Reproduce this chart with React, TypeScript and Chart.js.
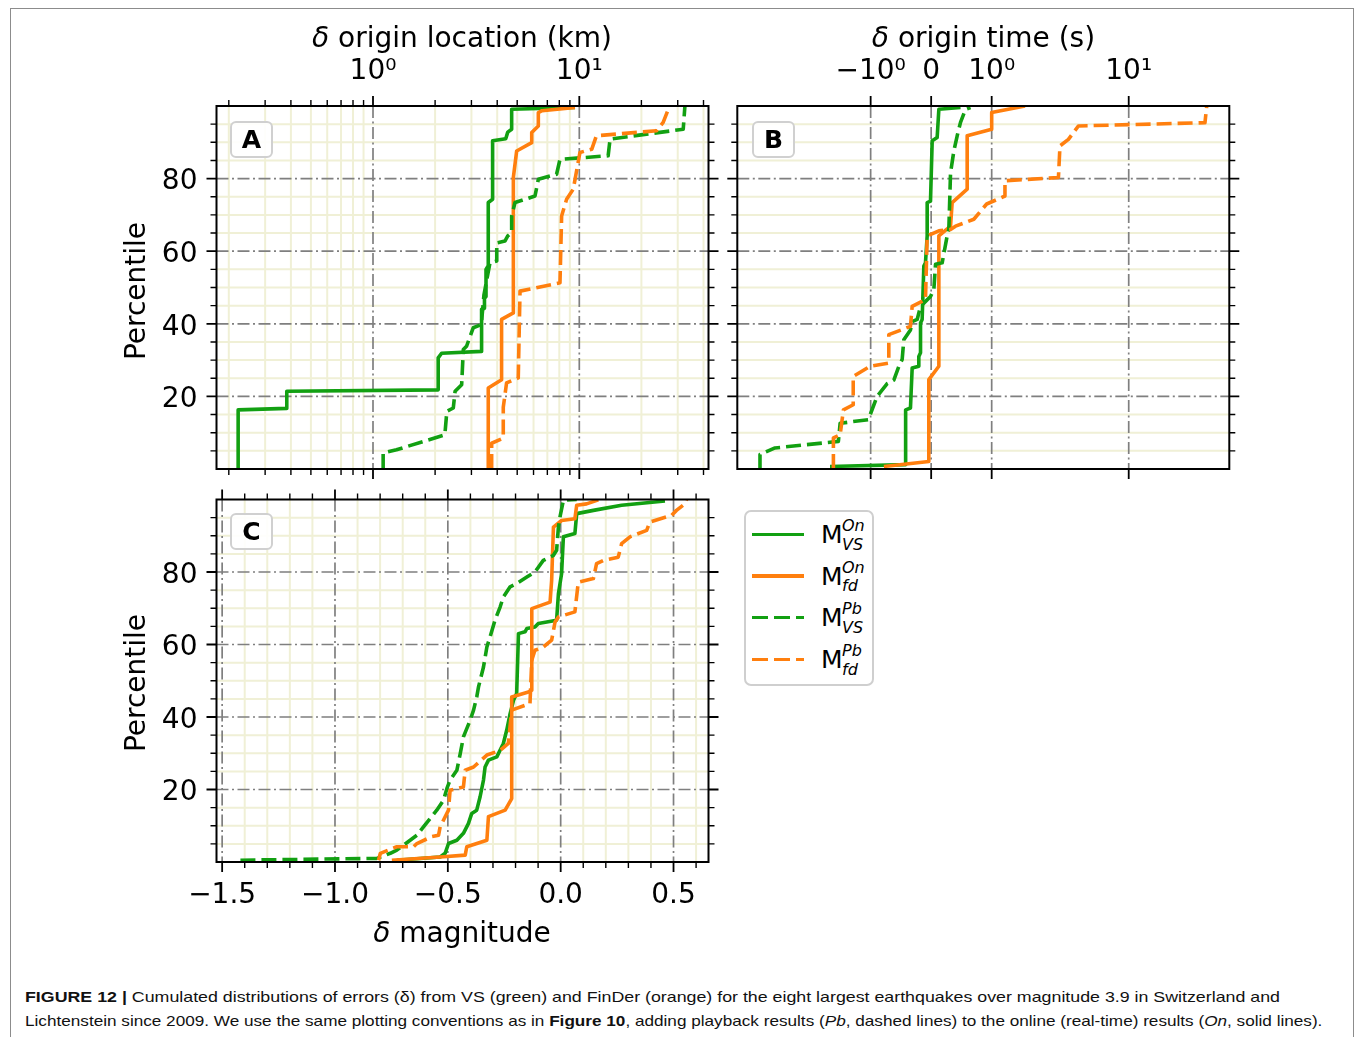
import React, { useEffect, useRef } from 'react';
import { Chart, registerables, LinearScale } from 'chart.js';

Chart.register(...registerables);

// ---------------- data ----------------
// Panel A: delta origin location (km) vs percentile
const locVsOn: [number, number][] = [
  [0.222, 0], [0.222, 16.3], [0.382, 16.7], [0.382, 21.4], [2.07, 21.8], [2.07, 30.6], [2.15, 31.9],
  [3.36, 32.4], [3.36, 44.0], [3.47, 44.3], [3.47, 47.0], [3.53, 47.5], [3.53, 55.0], [3.62, 56.0],
  [3.62, 73.4], [3.8, 74.3], [3.8, 90.4], [4.4, 91.0], [4.5, 92.8], [4.7, 93.6], [4.7, 99.1], [9.53, 99.6],
];
const locFdOn: [number, number][] = [
  [3.62, 0], [3.62, 22.3], [4.2, 24.6], [4.2, 41.2], [4.79, 43.0], [4.79, 80.3], [4.97, 87.6],
  [5.88, 89.9], [5.88, 92.7], [6.33, 94.5], [6.33, 98.2], [6.6, 98.7], [9.53, 99.6],
];
const locVsPb: [number, number][] = [
  [1.12, 0], [1.12, 4.4], [1.3, 5.3], [2.23, 9.4], [2.28, 15.9], [2.45, 16.8], [2.5, 21.4], [2.69, 23.2],
  [2.74, 32.9], [2.84, 33.8], [3.06, 38.9], [3.35, 39.8], [3.45, 48.0], [3.69, 56.8], [3.98, 57.3],
  [3.98, 62.3], [4.36, 62.8], [4.5, 64.2], [4.7, 65.1], [4.7, 69.7], [4.88, 73.4], [6.1, 75.2],
  [6.33, 79.8], [7.76, 81.2], [8.06, 85.3], [13.8, 86.3], [14.1, 90.9], [31.9, 93.6], [32.5, 100],
];
const locFdPb: [number, number][] = [
  [3.76, 0], [3.76, 7.1], [4.28, 8.5], [4.28, 17.0], [4.44, 23.7], [5.06, 25.1], [5.16, 49.0],
  [8.06, 51.3], [8.21, 69.7], [8.68, 74.3], [9.35, 77.1], [10.07, 87.2], [11.5, 88.1], [12.1, 91.8],
  [23.7, 93.2], [25.5, 95.5], [27.0, 99.1], [27.5, 99.6],
];

// Panel B: delta origin time (s) vs percentile
const timeVsOn: [number, number][] = [
  [-1.98, 0.7], [-0.424, 1.2], [-0.424, 2.05], [-0.42, 16.3], [-0.342, 16.8], [-0.314, 27.8],
  [-0.204, 28.3], [-0.204, 31.0], [-0.176, 32.0], [-0.176, 40.2], [-0.149, 41.2], [-0.121, 55.9],
  [-0.094, 56.8], [-0.066, 64.2], [-0.066, 73.4], [-0.011, 73.8], [0.017, 90.4], [0.099, 91.3],
  [0.127, 99.1], [0.485, 99.6],
];
const timeFdOn: [number, number][] = [
  [-0.782, 0.7], [-0.039, 2.05], [-0.039, 24.6], [0.127, 28.3], [0.127, 64.2], [0.32, 66.9],
  [0.347, 73.4], [0.595, 77.1], [0.595, 91.8], [1.0, 93.6], [1.0, 98.2], [1.75, 100],
];
const timeVsPb: [number, number][] = [
  [-6.42, 0], [-6.42, 4.0], [-4.99, 5.8], [-1.72, 7.6], [-1.67, 12.6], [-1.04, 13.6], [-0.893, 20.0],
  [-0.727, 23.5], [-0.617, 24.5], [-0.534, 28.3], [-0.479, 30.2], [-0.452, 35.6], [-0.342, 38.3],
  [-0.314, 40.6], [-0.231, 41.2], [-0.176, 44.8], [-0.121, 45.7], [-0.011, 47.5], [0.044, 49.4],
  [0.072, 56.4], [0.182, 56.8], [0.264, 64.2], [0.292, 66.0], [0.32, 81.6], [0.375, 87.6],
  [0.43, 91.8], [0.485, 95.5], [0.567, 99.1], [0.65, 99.6],
];
const timeFdPb: [number, number][] = [
  [-1.87, 0], [-1.87, 8.6], [-1.67, 9.4], [-1.58, 16.3], [-1.34, 17.7], [-1.34, 25.5], [-1.01, 28.3],
  [-0.7, 29.2], [-0.7, 37.0], [-0.342, 39.3], [-0.314, 44.8], [-0.094, 46.7], [-0.066, 64.2],
  [0.127, 65.6], [0.32, 66.0], [0.402, 66.9], [0.705, 68.8], [0.917, 73.0], [1.25, 75.2], [1.25, 79.4],
  [3.07, 80.3], [3.15, 89.0], [3.63, 90.8], [4.29, 94.5], [36.0, 95.4], [37.1, 100],
];

// Panel C: delta magnitude vs percentile
const magVsOn: [number, number][] = [
  [-0.726, 0.5], [-0.534, 1.4], [-0.512, 2.4], [-0.497, 5.1], [-0.46, 6.0], [-0.431, 7.9], [-0.409, 10.6],
  [-0.394, 13.4], [-0.372, 14.3], [-0.357, 18.0], [-0.342, 22.6], [-0.335, 26.2], [-0.32, 28.1],
  [-0.283, 29.0], [-0.254, 32.7], [-0.239, 36.4], [-0.224, 40.9], [-0.209, 44.6], [-0.195, 46.5],
  [-0.187, 63.0], [-0.158, 63.5], [-0.15, 64.4], [-0.114, 64.8], [-0.099, 65.8], [-0.018, 66.7],
  [-0.01, 74.0], [0.004, 79.5], [0.012, 89.7], [0.063, 90.6], [0.071, 96.1], [0.145, 97.0],
  [0.27, 98.4], [0.462, 99.6],
];
const magFdOn: [number, number][] = [
  [-0.748, 0.5], [-0.534, 1.4], [-0.423, 1.9], [-0.416, 4.2], [-0.327, 6.0], [-0.32, 12.5], [-0.246, 14.3],
  [-0.217, 17.5], [-0.217, 45.5], [-0.143, 46.9], [-0.128, 47.4], [-0.128, 69.9], [-0.047, 71.7],
  [-0.04, 77.7], [-0.032, 92.4], [0.004, 94.2], [0.063, 94.7], [0.071, 98.4], [0.115, 98.8], [0.167, 99.9],
];
const magVsPb: [number, number][] = [
  [-1.419, 0.5], [-0.814, 1.0], [-0.755, 2.4], [-0.726, 3.3], [-0.667, 6.0], [-0.637, 7.4], [-0.608, 9.7],
  [-0.549, 14.3], [-0.519, 17.1], [-0.504, 20.3], [-0.49, 22.6], [-0.46, 25.3], [-0.445, 29.9],
  [-0.431, 34.5], [-0.401, 39.1], [-0.386, 41.9], [-0.372, 45.5], [-0.364, 48.3], [-0.342, 53.8],
  [-0.327, 59.3], [-0.313, 62.1], [-0.291, 66.7], [-0.268, 70.4], [-0.254, 73.1], [-0.224, 75.9],
  [-0.195, 76.8], [-0.15, 78.6], [-0.114, 80.0], [-0.077, 83.2], [-0.032, 84.6], [-0.018, 86.0],
  [-0.01, 92.4], [-0.003, 95.2], [0.012, 99.8], [0.071, 100],
];
const magFdPb: [number, number][] = [
  [-0.807, 0.5], [-0.799, 2.4], [-0.726, 4.2], [-0.652, 4.2], [-0.637, 5.1], [-0.571, 7.0], [-0.541, 7.4],
  [-0.534, 9.7], [-0.497, 14.3], [-0.49, 19.8], [-0.431, 20.7], [-0.423, 25.3], [-0.386, 26.2],
  [-0.327, 29.5], [-0.268, 30.8], [-0.232, 32.7], [-0.217, 41.9], [-0.136, 43.7], [-0.128, 55.7],
  [-0.114, 58.4], [-0.077, 59.3], [-0.04, 61.2], [-0.025, 66.2], [-0.01, 67.6], [0.063, 69.0],
  [0.078, 77.2], [0.145, 78.2], [0.159, 82.3], [0.189, 83.2], [0.255, 84.1], [0.27, 87.8],
  [0.307, 89.7], [0.381, 91.5], [0.395, 93.8], [0.491, 95.6], [0.513, 97.0], [0.55, 98.8], [0.558, 100],
];

// ticks
const pctMajor = [20, 40, 60, 80];
const pctMinor = [5, 10, 15, 25, 30, 35, 45, 50, 55, 65, 70, 75, 85, 90, 95];
const locMajor = [1, 10];
const locMajorLabels = ['10\u2070', '10\u00b9'];
const locMinor = [0.2, 0.3, 0.4, 0.5, 0.6, 0.7, 0.8, 0.9, 2, 3, 4, 5, 6, 7, 8, 9, 20, 30, 40];
const timeMajor = [-1, 0, 1, 10];
const timeMajorLabels = ['\u221210\u2070', '0', '10\u2070', '10\u00b9'];
const magMajor = [-1.5, -1.0, -0.5, 0.0, 0.5];
const magMajorLabels = ['\u22121.5', '\u22121.0', '\u22120.5', '0.0', '0.5'];
const magMinor = [-1.4, -1.3, -1.2, -1.1, -0.9, -0.8, -0.7, -0.6, -0.4, -0.3, -0.2, -0.1, 0.1, 0.2, 0.3, 0.4, 0.6];

const seriesNames = ['M VS On', 'M fd On', 'M VS Pb', 'M fd Pb'];

// ---------------- styles ----------------
const GREEN = '#12a012';
const ORANGE = '#ff7f0e';
const DASH = [15, 6];
const LW = 3.6;
const FONT = 'DejaVu Sans';

// symmetric log transform for panel B
const LIN_UNIT = 60.5 / 137;
function symT(v: number) {
  const a = Math.abs(v);
  const t = a <= 1 ? a * LIN_UNIT : LIN_UNIT + Math.log10(a);
  return v < 0 ? -t : t;
}
function symInv(t: number) {
  const a = Math.abs(t);
  const v = a <= LIN_UNIT ? a / LIN_UNIT : Math.pow(10, a - LIN_UNIT);
  return t < 0 ? -v : v;
}
class SymLogScale extends (LinearScale as any) {
  static id = 'symlog';
  static defaults = (LinearScale as any).defaults;
  getPixelForValue(value: number) {
    const t0 = symT(this.min), t1 = symT(this.max);
    return this.getPixelForDecimal((symT(value) - t0) / (t1 - t0));
  }
  getValueForPixel(pixel: number) {
    const t0 = symT(this.min), t1 = symT(this.max);
    return symInv(t0 + this.getDecimalForPixel(pixel) * (t1 - t0));
  }
}
Chart.register(SymLogScale as any);

// matplotlib-like grid / frame / ticks
const mplFrame = {
  id: 'mplFrame',
  beforeDatasetsDraw(chart: any, _a: any, o: any) {
    const { ctx, chartArea: a } = chart;
    const xs = chart.scales.x, ys = chart.scales.y;
    ctx.save();
    ctx.beginPath();
    ctx.rect(a.left, a.top, a.right - a.left, a.bottom - a.top);
    ctx.clip();
    ctx.lineWidth = 2;
    ctx.strokeStyle = '#f0f0d6';
    ctx.beginPath();
    if (o.xMinorGrid) for (const v of o.xMinor) { const p = xs.getPixelForValue(v); ctx.moveTo(p, a.top); ctx.lineTo(p, a.bottom); }
    for (const v of o.yMinor) { const p = ys.getPixelForValue(v); ctx.moveTo(a.left, p); ctx.lineTo(a.right, p); }
    ctx.stroke();
    ctx.setLineDash([12, 3.5, 2, 3.5]);
    ctx.strokeStyle = '#7f7f7f';
    ctx.lineWidth = 1.7;
    ctx.beginPath();
    for (const v of o.xMajor) { const p = xs.getPixelForValue(v); ctx.moveTo(p, a.top); ctx.lineTo(p, a.bottom); }
    for (const v of o.yMajor) { const p = ys.getPixelForValue(v); ctx.moveTo(a.left, p); ctx.lineTo(a.right, p); }
    ctx.stroke();
    ctx.restore();
  },
  afterDatasetsDraw(chart: any, _a: any, o: any) {
    const { ctx, chartArea: a } = chart;
    const xs = chart.scales.x, ys = chart.scales.y;
    ctx.save();
    ctx.strokeStyle = '#000';
    const tick = (vals: number[], len: number, lw: number) => {
      ctx.lineWidth = lw;
      ctx.beginPath();
      for (const v of vals) {
        const p = xs.getPixelForValue(v);
        ctx.moveTo(p, a.top); ctx.lineTo(p, a.top - len);
        ctx.moveTo(p, a.bottom); ctx.lineTo(p, a.bottom + len);
      }
      ctx.stroke();
    };
    const ytick = (vals: number[], len: number, lw: number) => {
      ctx.lineWidth = lw;
      ctx.beginPath();
      for (const v of vals) {
        const p = ys.getPixelForValue(v);
        ctx.moveTo(a.left, p); ctx.lineTo(a.left - len, p);
        ctx.moveTo(a.right, p); ctx.lineTo(a.right + len, p);
      }
      ctx.stroke();
    };
    tick(o.xMajor, 10, 1.8);
    tick(o.xMinor, 6, 1.4);
    ytick(o.yMajor, 10, 1.8);
    ytick(o.yMinor, 6, 1.4);
    ctx.lineWidth = 2;
    ctx.strokeRect(a.left, a.top, a.right - a.left, a.bottom - a.top);
    ctx.restore();
  },
};

function toXY(pairs: [number, number][]) {
  return pairs.map(([x, y]) => ({ x, y }));
}
function makeSets(vsOn: [number, number][], fdOn: [number, number][], vsPb: [number, number][], fdPb: [number, number][]) {
  // first dataset is drawn on top in Chart.js, so list them in reverse plotting order
  const mk = (label: string, d: [number, number][], color: string, dashed: boolean) => ({
    label,
    data: toXY(d),
    borderColor: color,
    backgroundColor: color,
    borderWidth: LW,
    borderDash: dashed ? DASH : [],
    borderJoinStyle: 'round',
    pointRadius: 0,
    tension: 0,
    fill: false,
  });
  return [
    mk(seriesNames[3], fdPb, ORANGE, true),
    mk(seriesNames[2], vsPb, GREEN, true),
    mk(seriesNames[1], fdOn, ORANGE, false),
    mk(seriesNames[0], vsOn, GREEN, false),
  ];
}

const tickFont = { family: FONT, size: 28 };

function yAxis(showLabels: boolean, width: number) {
  return {
    type: 'linear',
    min: 0,
    max: 100,
    display: showLabels,
    grid: { display: false, drawTicks: false },
    border: { display: false },
    ticks: { font: tickFont, color: '#000', padding: 19, labelOffset: 3.5, autoSkip: false, callback: (v: any) => String(v) },
    afterBuildTicks: (s: any) => { s.ticks = pctMajor.map((value) => ({ value })); },
    afterFit: (s: any) => { s.width = width; s.paddingTop = 0; s.paddingBottom = 0; s.paddingLeft = 0; s.paddingRight = 0; },
  };
}

function xAxis(type: string, position: string, min: number, max: number, majors: number[], labels: string[], height: number, padding: number) {
  return {
    type,
    position,
    min,
    max,
    grid: { display: false, drawTicks: false },
    border: { display: false },
    ticks: {
      font: tickFont,
      color: '#000',
      padding,
      autoSkip: false,
      maxRotation: 0,
      minRotation: 0,
      callback: (v: any) => {
        const i = majors.findIndex((m) => Math.abs(m - Number(v)) < 1e-9);
        return i >= 0 ? labels[i] : '';
      },
    },
    afterBuildTicks: (s: any) => { s.ticks = majors.map((value) => ({ value })); },
    afterFit: (s: any) => { s.height = height; s.paddingTop = 0; s.paddingBottom = 0; s.paddingLeft = 0; s.paddingRight = 0; },
  };
}

function baseOptions(padding: any, scales: any, frame: any) {
  return {
    animation: false,
    responsive: false,
    devicePixelRatio: 1,
    layout: { padding },
    plugins: { legend: { display: false }, tooltip: { enabled: false }, mplFrame: frame },
    elements: { point: { radius: 0 } },
    scales,
  };
}

const LOC_MIN = Math.pow(10, (216.5 - 373) / 206.3);
const LOC_MAX = Math.pow(10, (708.5 - 373) / 206.3);

function ChartCanvas({ left, top, width, height, make }: any) {
  const ref = useRef<HTMLCanvasElement | null>(null);
  useEffect(() => {
    const c = new Chart(ref.current as HTMLCanvasElement, make());
    return () => c.destroy();
  }, []);
  return (
    <canvas ref={ref} width={width} height={height}
      style={{ position: 'absolute', left, top, width, height }} />
  );
}

const makeA = () => ({
  type: 'line',
  data: { datasets: makeSets(locVsOn, locFdOn, locVsPb, locFdPb) },
  options: baseOptions(
    { left: 0, top: 0, right: 11.5, bottom: 11 },
    {
      x: xAxis('logarithmic', 'top', LOC_MIN, LOC_MAX, locMajor, locMajorLabels, 96, 17),
      y: yAxis(true, 116.5),
    },
    { xMajor: locMajor, xMinor: locMinor, xMinorGrid: true, yMajor: pctMajor, yMinor: pctMinor },
  ),
  plugins: [mplFrame],
});

const makeB = () => ({
  type: 'line',
  data: { datasets: makeSets(timeVsOn, timeFdOn, timeVsPb, timeFdPb) },
  options: baseOptions(
    { left: 12.3, top: 0, right: 15.7, bottom: 11 },
    {
      x: xAxis('symlog', 'top', -9.4, 54.2, timeMajor, timeMajorLabels, 96, 17),
      y: yAxis(false, 0),
    },
    { xMajor: timeMajor, xMinor: [], xMinorGrid: false, yMajor: pctMajor, yMinor: pctMinor },
  ),
  plugins: [mplFrame],
});

const makeC = () => ({
  type: 'line',
  data: { datasets: makeSets(magVsOn, magFdOn, magVsPb, magFdPb) },
  options: baseOptions(
    { left: 0, top: 19.5, right: 11.5, bottom: 0 },
    {
      x: xAxis('linear', 'bottom', -1.525, 0.655, magMajor, magMajorLabels, 98, 17),
      y: yAxis(true, 116.5),
    },
    { xMajor: magMajor, xMinor: magMinor, xMinorGrid: true, yMajor: pctMajor, yMinor: pctMinor },
  ),
  plugins: [mplFrame],
});

const titleStyle: any = {
  position: 'absolute', fontFamily: FONT, fontSize: 28, lineHeight: '28px',
  whiteSpace: 'nowrap', textAlign: 'center', color: '#000',
};

function PanelTag({ left, top, text }: any) {
  return (
    <div style={{
      position: 'absolute', left, top, width: 43, height: 37, boxSizing: 'border-box',
      border: '2px solid #d0d0d0', borderRadius: 6, background: 'rgba(255,255,255,0.9)',
      fontFamily: FONT, fontWeight: 'bold', fontSize: 25, lineHeight: '33px', textAlign: 'center', color: '#000',
    }}>{text}</div>
  );
}

function Percentile({ cy }: any) {
  return (
    <div style={{ ...titleStyle, left: 136.3 - 100, top: cy - 14, width: 200, height: 28, transform: 'rotate(-90deg)' }}>
      Percentile
    </div>
  );
}

const legendRows = [
  { color: GREEN, dashed: false, sup: 'On', sub: 'VS', y: 534.3 },
  { color: ORANGE, dashed: false, sup: 'On', sub: 'fd', y: 576 },
  { color: GREEN, dashed: true, sup: 'Pb', sub: 'VS', y: 617.3 },
  { color: ORANGE, dashed: true, sup: 'Pb', sub: 'fd', y: 659.3 },
];

function Legend() {
  return (
    <>
      <div style={{
        position: 'absolute', left: 744, top: 510, width: 130, height: 176, boxSizing: 'border-box',
        border: '2px solid #cfcfcf', borderRadius: 7, background: '#fff',
      }} />
      {legendRows.map((r, i) => {
        const base = r.y + 9;
        return (
          <React.Fragment key={i}>
            <div style={{
              position: 'absolute', left: 752, top: r.y - LW / 2, width: 52, height: LW,
              background: r.dashed
                ? `repeating-linear-gradient(to right, ${r.color} 0px, ${r.color} 16px, transparent 16px, transparent 22px)`
                : r.color,
            }} />
            <div style={{ position: 'absolute', left: 821, top: base - 21.15, fontFamily: FONT, fontSize: 25, lineHeight: '25px', color: '#000' }}>M</div>
            <div style={{ position: 'absolute', left: 842, top: base - 11.6 - 13.5, fontFamily: FONT, fontStyle: 'italic', fontSize: 16, lineHeight: '16px', color: '#000' }}>{r.sup}</div>
            <div style={{ position: 'absolute', left: 842, top: base + 6.7 - 13.5, fontFamily: FONT, fontStyle: 'italic', fontSize: 16, lineHeight: '16px', color: '#000' }}>{r.sub}</div>
          </React.Fragment>
        );
      })}
    </>
  );
}

const captionStyle: any = {
  position: 'absolute', left: 25, fontFamily: '"Liberation Sans", Arial, sans-serif', fontSize: 14.5,
  lineHeight: '14.5px', whiteSpace: 'nowrap', color: '#111', transformOrigin: 'left top',
};

export default function App() {
  return (
    <div style={{ position: 'absolute', left: 0, top: 0, width: 1355, height: 1037, overflow: 'hidden', background: '#fff' }}>
      <div style={{
        position: 'absolute', left: 10, top: 8, width: 1344, height: 1100, boxSizing: 'border-box',
        border: '1.5px solid #8c8c8c',
      }} />
      <ChartCanvas left={100} top={10} width={620} height={470} make={makeA} />
      <ChartCanvas left={725} top={10} width={520} height={470} make={makeB} />
      <ChartCanvas left={100} top={480} width={620} height={480} make={makeC} />

      <div style={{ ...titleStyle, left: 462 - 200, top: 24, width: 400 }}><i>δ</i> origin location (km)</div>
      <div style={{ ...titleStyle, left: 983.5 - 200, top: 24, width: 400 }}><i>δ</i> origin time (s)</div>
      <div style={{ ...titleStyle, left: 462 - 200, top: 919, width: 400 }}><i>δ</i> magnitude</div>
      <Percentile cy={291} />
      <Percentile cy={683} />

      <PanelTag left={230} top={121} text="A" />
      <PanelTag left={752} top={121} text="B" />
      <PanelTag left={230} top={513} text="C" />

      <Legend />

      <div style={{ ...captionStyle, top: 989.7, transform: 'scaleX(1.227)' }}>
        <b>FIGURE 12 |</b> Cumulated distributions of errors (δ) from VS (green) and FinDer (orange) for the eight largest earthquakes over magnitude 3.9 in Switzerland and
      </div>
      <div style={{ ...captionStyle, top: 1014.2, transform: 'scaleX(1.183)' }}>
        Lichtenstein since 2009. We use the same plotting conventions as in <b>Figure 10</b>, adding playback results (<i>Pb</i>, dashed lines) to the online (real-time) results (<i>On</i>, solid lines).
      </div>
    </div>
  );
}
